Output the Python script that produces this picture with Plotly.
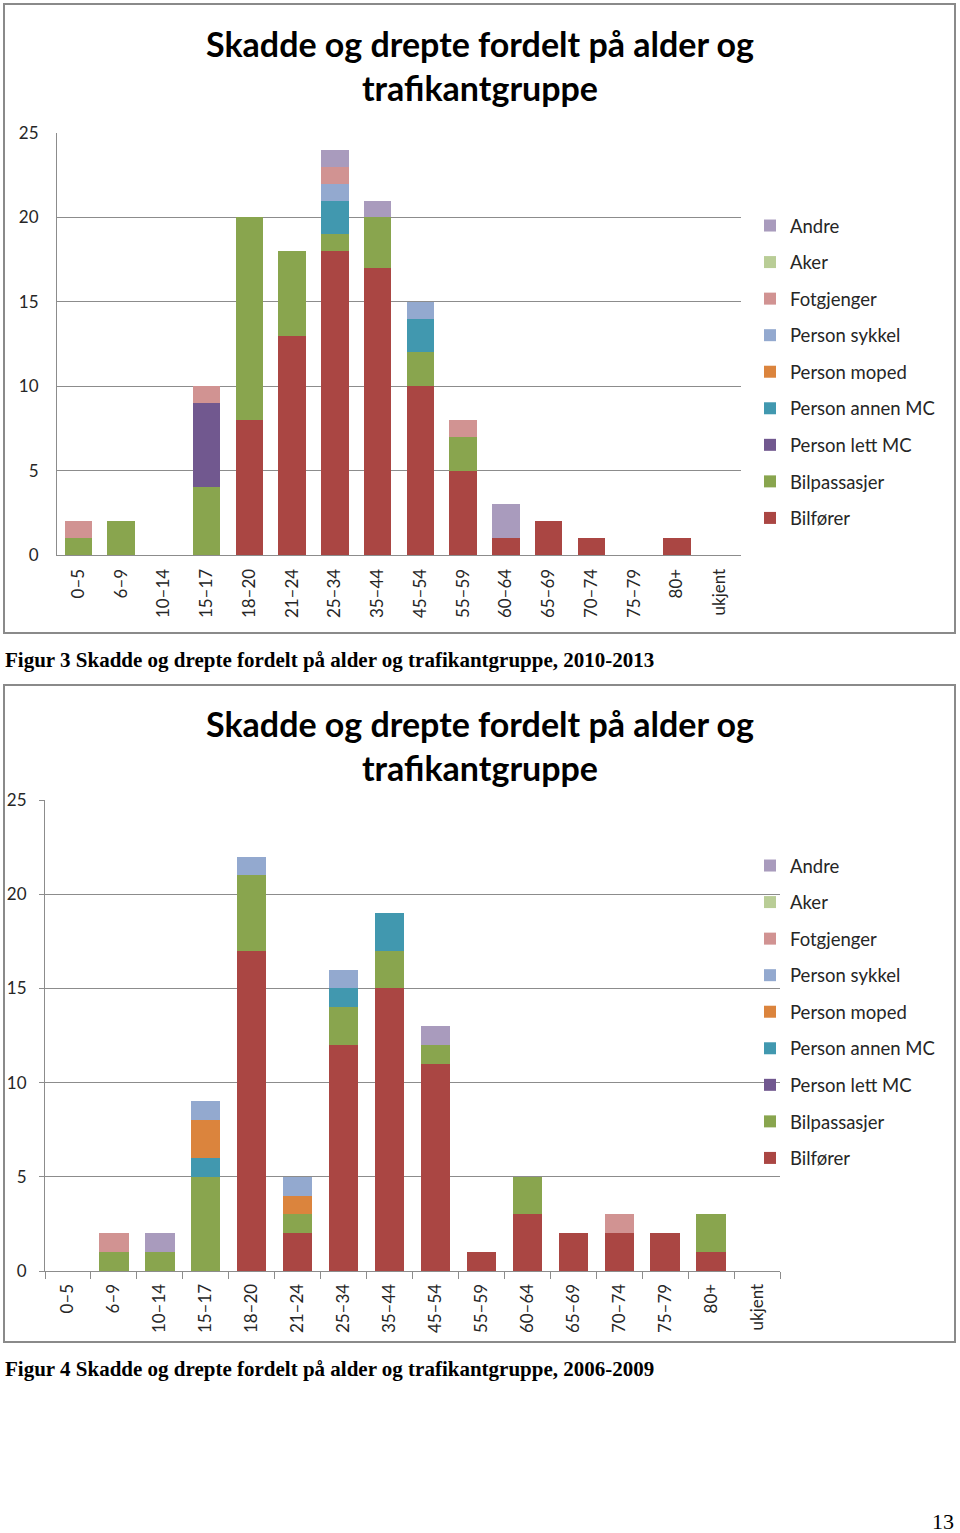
import plotly.graph_objects as go

W, H = 960, 1533

ages = ["0–5", "6–9", "10–14", "15–17", "18–20", "21–24", "25–34", "35–44",
        "45–54", "55–59", "60–64", "65–69", "70–74", "75–79", "80+", "ukjent"]

series_names = ["Bilfører", "Bilpassasjer", "Person lett MC", "Person annen MC",
                "Person moped", "Person sykkel", "Fotgjenger", "Aker", "Andre"]
series_colors = ["#AA4643", "#89A54E", "#71588F", "#4198AF",
                 "#DB843D", "#93A9CF", "#D19392", "#B9CD96", "#A99BBD"]

# Figur 3: 2010-2013
bilforer_2013 = [0, 0, 0, 0, 8, 13, 18, 17, 10, 5, 1, 2, 1, 0, 1, 0]
bilpassasjer_2013 = [1, 2, 0, 4, 12, 5, 1, 3, 2, 2, 0, 0, 0, 0, 0, 0]
lett_mc_2013 = [0, 0, 0, 5, 0, 0, 0, 0, 0, 0, 0, 0, 0, 0, 0, 0]
annen_mc_2013 = [0, 0, 0, 0, 0, 0, 2, 0, 2, 0, 0, 0, 0, 0, 0, 0]
moped_2013 = [0, 0, 0, 0, 0, 0, 0, 0, 0, 0, 0, 0, 0, 0, 0, 0]
sykkel_2013 = [0, 0, 0, 0, 0, 0, 1, 0, 1, 0, 0, 0, 0, 0, 0, 0]
fotgjenger_2013 = [1, 0, 0, 1, 0, 0, 1, 0, 0, 1, 0, 0, 0, 0, 0, 0]
aker_2013 = [0, 0, 0, 0, 0, 0, 0, 0, 0, 0, 0, 0, 0, 0, 0, 0]
andre_2013 = [0, 0, 0, 0, 0, 0, 1, 1, 0, 0, 2, 0, 0, 0, 0, 0]

# Figur 4: 2006-2009
bilforer_2009 = [0, 0, 0, 0, 17, 2, 12, 15, 11, 1, 3, 2, 2, 2, 1, 0]
bilpassasjer_2009 = [0, 1, 1, 5, 4, 1, 2, 2, 1, 0, 2, 0, 0, 0, 2, 0]
lett_mc_2009 = [0, 0, 0, 0, 0, 0, 0, 0, 0, 0, 0, 0, 0, 0, 0, 0]
annen_mc_2009 = [0, 0, 0, 1, 0, 0, 1, 2, 0, 0, 0, 0, 0, 0, 0, 0]
moped_2009 = [0, 0, 0, 2, 0, 1, 0, 0, 0, 0, 0, 0, 0, 0, 0, 0]
sykkel_2009 = [0, 0, 0, 1, 1, 1, 1, 0, 0, 0, 0, 0, 0, 0, 0, 0]
fotgjenger_2009 = [0, 1, 0, 0, 0, 0, 0, 0, 0, 0, 0, 0, 1, 0, 0, 0]
aker_2009 = [0, 0, 0, 0, 0, 0, 0, 0, 0, 0, 0, 0, 0, 0, 0, 0]
andre_2009 = [0, 0, 1, 0, 0, 0, 0, 0, 1, 0, 0, 0, 0, 0, 0, 0]

data_2013 = [bilforer_2013, bilpassasjer_2013, lett_mc_2013, annen_mc_2013, moped_2013,
             sykkel_2013, fotgjenger_2013, aker_2013, andre_2013]
data_2009 = [bilforer_2009, bilpassasjer_2009, lett_mc_2009, annen_mc_2009, moped_2009,
             sykkel_2009, fotgjenger_2009, aker_2009, andre_2009]

chart_title = "Skadde og drepte fordelt på alder og<br>trafikantgruppe"
caption_3 = "Figur 3 Skadde og drepte fordelt på alder og trafikantgruppe, 2010-2013"
caption_4 = "Figur 4 Skadde og drepte fordelt på alder og trafikantgruppe, 2006-2009"
page_number = "13"

FONT = "Lato"
GRID = "#8C8C8C"
TXT = "#262626"


def px(x):
    return x / W


def py(y):
    return 1 - y / H


fig = go.Figure()
n = len(series_names)
for i, name in enumerate(series_names):
    fig.add_trace(go.Bar(x=ages, y=data_2013[i], name=name, marker_color=series_colors[i],
                         marker_line_width=0, xaxis="x", yaxis="y",
                         legend="legend", legendgroup="a" + str(i), legendrank=n - i))
for i, name in enumerate(series_names):
    fig.add_trace(go.Bar(x=ages, y=data_2009[i], name=name, marker_color=series_colors[i],
                         marker_line_width=0, xaxis="x2", yaxis="y2",
                         legend="legend2", legendgroup="b" + str(i), legendrank=n - i))

yax = dict(range=[0, 25], dtick=5, showgrid=True, gridcolor=GRID, gridwidth=1,
           showline=True, linecolor=GRID, linewidth=1, zeroline=False,
           tickfont=dict(family=FONT, size=17, color=TXT), automargin=False)
xax = dict(type="category", showline=True, linecolor=GRID, linewidth=1,
           tickangle=-90, tickfont=dict(family=FONT, size=17, color=TXT),
           showgrid=False, zeroline=False, automargin=False)

legend_common = dict(font=dict(family=FONT, size=18.5, color=TXT), traceorder="grouped",
                     tracegroupgap=9.5, itemwidth=30, bgcolor="rgba(0,0,0,0)",
                     xanchor="left", yanchor="top", itemclick=False)

fig.update_layout(
    width=W, height=H,
    margin=dict(l=0, r=0, t=0, b=0, pad=0, autoexpand=False),
    paper_bgcolor="white", plot_bgcolor="white",
    barmode="stack", bargap=0.36,
    xaxis=dict(xax, domain=[px(57), px(741)], anchor="y", ticks="", ticklabelstandoff=6),
    yaxis=dict(yax, domain=[py(555), py(133)], anchor="x", ticks="", ticklabelstandoff=14),
    xaxis2=dict(xax, domain=[px(45), px(780)], anchor="y2", ticks="outside",
                tickson="boundaries", ticklen=7, tickcolor=GRID, ticklabelstandoff=5),
    yaxis2=dict(yax, domain=[py(1271), py(800)], anchor="x2", ticks="outside",
                ticklen=5, tickcolor=GRID, ticklabelstandoff=9),
    legend=dict(legend_common, x=px(750), y=py(207)),
    legend2=dict(legend_common, x=px(750), y=py(847)),
    showlegend=True,
)

shapes = [
    dict(type="rect", xref="paper", yref="paper", x0=px(4), x1=px(955), y0=py(633), y1=py(4),
         line=dict(color="#8A8A8A", width=2), layer="below"),
    dict(type="rect", xref="paper", yref="paper", x0=px(4), x1=px(955), y0=py(1342), y1=py(685),
         line=dict(color="#8A8A8A", width=2), layer="below"),
]
fig.update_layout(shapes=shapes)

ann = [
    dict(text="<b>" + chart_title + "</b>", x=px(480), y=py(65), xref="paper", yref="paper",
         showarrow=False, xanchor="center", yanchor="middle",
         font=dict(family=FONT, size=34, color="black")),
    dict(text="<b>" + chart_title + "</b>", x=px(480), y=py(745), xref="paper", yref="paper",
         showarrow=False, xanchor="center", yanchor="middle",
         font=dict(family=FONT, size=34, color="black")),
    dict(text="<b>" + caption_3 + "</b>", x=px(3), y=py(660), xref="paper", yref="paper",
         showarrow=False, xanchor="left", yanchor="middle",
         font=dict(family="Liberation Serif", size=21, color="black")),
    dict(text="<b>" + caption_4 + "</b>", x=px(3), y=py(1369), xref="paper", yref="paper",
         showarrow=False, xanchor="left", yanchor="middle",
         font=dict(family="Liberation Serif", size=21, color="black")),
    dict(text=page_number, x=px(956), y=py(1521), xref="paper", yref="paper",
         showarrow=False, xanchor="right", yanchor="middle",
         font=dict(family="Liberation Serif", size=22, color="black")),
]
fig.update_layout(annotations=ann)

fig.write_html("out.html", config={"displayModeBar": False},
               post_script="document.body.style.margin='0';document.body.style.overflow='hidden';")
